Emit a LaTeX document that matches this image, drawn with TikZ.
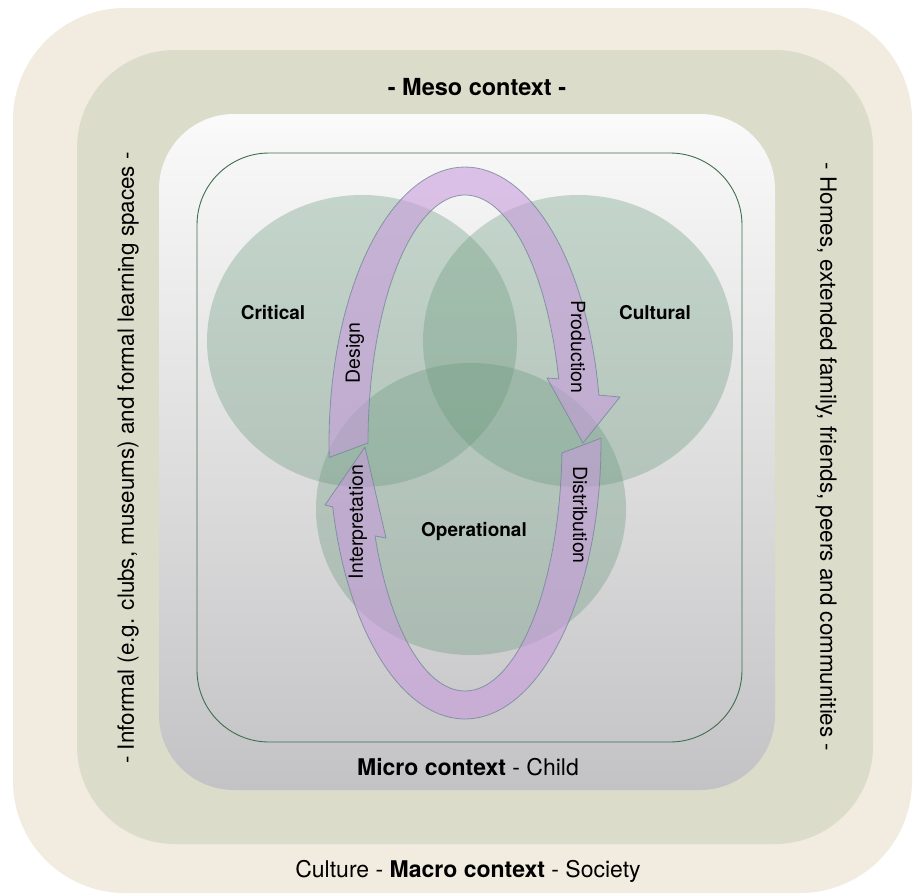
\documentclass[tikz,border=0pt]{standalone}
\usepackage{fontspec}
\setmainfont{TeX Gyre Heros}
\usetikzlibrary{calc}

\definecolor{macrocol}{RGB}{242,235,223}
\definecolor{mesocol}{RGB}{220,220,203}
\definecolor{microtop}{RGB}{250,250,250}
\definecolor{microbot}{RGB}{195,195,197}
\definecolor{framecol}{RGB}{62,110,78}
\definecolor{venncol}{RGB}{100,150,120}
\definecolor{loopcol}{RGB}{200,155,220}
\definecolor{loopline}{RGB}{115,135,155}

\begin{document}
\begin{tikzpicture}[x=1pt,y=-1pt,
  txt/.style={font=\fontsize{19.5}{22}\selectfont, inner sep=0pt},
  bigtxt/.style={font=\fontsize{23}{26}\selectfont, inner sep=0pt},
  venn/.style={fill=venncol, fill opacity=0.33},
  looparrow/.style={fill=loopcol, fill opacity=0.58, draw=loopline, draw opacity=0.8, line width=0.8pt, line join=round}]

\newcommand{\lcx}{465}
\newcommand{\lcy}{443}
\newcommand{\lao}{136}
\newcommand{\lbo}{276}
\newcommand{\lai}{97}
\newcommand{\lbi}{248}

  \fill[white] (0,0) rectangle (924,895);
  \fill[macrocol, rounded corners=112pt] (13,8) rectangle (912,893);
  \fill[mesocol, rounded corners=98pt] (77,50) rectangle (873,844);
  \shade[top color=microtop, bottom color=microbot, rounded corners=75pt] (159,114) rectangle (775,790);
  \draw[framecol, line width=0.9pt, rounded corners=72pt] (197,153) rectangle (742,742);

    \foreach \px/\py in {362/341,578/341,471/509}{
      \fill[venn] (\px,\py) ellipse [x radius=155, y radius=146];
    }

  \filldraw[looparrow]
    plot[domain=177:350,samples=70] ({\lcx+\lao*cos(\x)},{\lcy+\lbo*sin(\x)})
    -- (620,397) -- (583,443) -- (547,378)
    -- plot[domain=345:180,samples=70] ({\lcx+\lai*cos(\x)},{\lcy+\lbi*sin(\x)})
    -- cycle;
  \filldraw[looparrow]
    plot[domain=-1:166.6,samples=70] ({\lcx+\lao*cos(\x)},{\lcy+\lbo*sin(\x)})
    -- (325,505) -- (365,447) -- (386,538)
    -- plot[domain=158:2.3,samples=70] ({\lcx+\lai*cos(\x)},{\lcy+\lbi*sin(\x)})
    -- cycle;

    \node[txt, font=\fontsize{19}{22}\selectfont\bfseries] (crit) at (273,313) {Critical};
    \node[txt, font=\fontsize{19}{22}\selectfont\bfseries] (cult) at (655,313) {Cultural};
    \node[txt, font=\fontsize{19}{22}\selectfont\bfseries] (oper) at (474,531) {Operational};

    \node[txt, rotate=90] (design) at (355,353) {Design};
    \node[txt, rotate=-90] (prod) at (578,347) {Production};
    \node[txt, rotate=90] (interp) at (358,522) {Interpretation};
    \node[txt, rotate=-90] (distr) at (580,515) {Distribution};

    \node[bigtxt, font=\fontsize{23.5}{26}\selectfont\bfseries] (meso) at (477,87) {- Meso context -};
    \node[bigtxt] (micro) at (468,767) {\textbf{Micro context} - Child};
    \node[bigtxt] (macro) at (468,871) {Culture - \textbf{Macro context} - Society};
    \node[bigtxt, font=\fontsize{22.4}{26}\selectfont, rotate=90] (left) at (128,458) {- Informal (e.g. clubs, museums) and formal learning spaces -};
    \node[bigtxt, font=\fontsize{22.4}{26}\selectfont, rotate=-90] (right) at (826,457) {- Homes, extended family, friends, peers and communities -};

\end{tikzpicture}
\end{document}
